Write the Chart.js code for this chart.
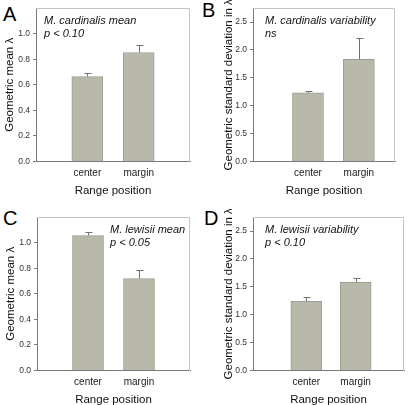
<!DOCTYPE html>
<html>
<head>
<meta charset="utf-8">
<script src="https://cdn.jsdelivr.net/npm/chart.js@4.4.1/dist/chart.umd.min.js"></script>
<style>
  html, body { margin: 0; padding: 0; background: #fff; overflow: hidden; }
  body { width: 410px; height: 405px; position: relative; font-family: 'Liberation Sans', Arial, sans-serif; }
  .pane { position: absolute; height: 200px; }
  .letter { position: absolute; font-size: 20px; line-height: 20px; color: #000; }
</style>
</head>
<body>
<div class="letter" style="left:3px;top:4px">A</div>
<div class="letter" style="left:202px;top:0px">B</div>
<div class="letter" style="left:3px;top:208px">C</div>
<div class="letter" style="left:204px;top:208px">D</div>

<div class="pane" style="left:0;top:0;width:205px"><canvas id="cA"></canvas></div>
<div class="pane" style="left:217px;top:0;width:193px"><canvas id="cB"></canvas></div>
<div class="pane" style="left:1px;top:209px;width:204px"><canvas id="cC"></canvas></div>
<div class="pane" style="left:217px;top:209px;width:193px"><canvas id="cD"></canvas></div>

<script>
var categories = ['center', 'margin'];
var catPos = [1, 2];

// M. cardinalis
var cardMean = [0.664, 0.853];
var cardMeanErr = [0.031, 0.056];
var cardSD = [1.23, 1.83];
var cardSDErr = [0.04, 0.38];

// M. lewisii
var lewMean = [1.055, 0.72];
var lewMeanErr = [0.03, 0.065];
var lewSD = [1.24, 1.585];
var lewSDErr = [0.08, 0.065];

var meanTicks = { max: 1.2, step: 0.2, top: 1.0 };
var sdTicks = { max: 2.75, step: 0.5, top: 2.5 };

var FONT = "'Liberation Sans', Arial, sans-serif";
var BAR = '#b9b9ab';
var BAR_EDGE = '#9b9b93';
var AXIS = '#7a7a7a';
var FRAME = '#c4c4c4';

var errPlugin = {
  id: 'errbars',
  afterDatasetsDraw: function(chart) {
    var errs = chart.options.plugins.errbars.errs;
    var ys = chart.scales.y;
    var meta = chart.getDatasetMeta(0);
    var vals = chart.data.datasets[0].data;
    var ctx = chart.ctx;
    ctx.save();
    ctx.strokeStyle = '#707070';
    ctx.lineWidth = 1;
    meta.data.forEach(function(el, i) {
      var x = Math.round(el.x) + 0.5;
      var yTop = Math.round(ys.getPixelForValue(vals[i].y + errs[i])) + 0.5;
      ctx.beginPath();
      ctx.moveTo(x, el.y);
      ctx.lineTo(x, yTop);
      ctx.moveTo(x - 3, yTop);
      ctx.lineTo(x + 4, yTop);
      ctx.stroke();
    });
    ctx.restore();
  }
};

var framePlugin = {
  id: 'frame',
  afterDraw: function(chart) {
    var a = chart.chartArea;
    var ctx = chart.ctx;
    ctx.save();
    ctx.strokeStyle = FRAME;
    ctx.lineWidth = 1;
    ctx.beginPath();
    ctx.moveTo(Math.round(a.left), Math.round(a.top) + 0.5);
    ctx.lineTo(Math.round(a.right) - 0.5, Math.round(a.top) + 0.5);
    ctx.lineTo(Math.round(a.right) - 0.5, Math.round(a.bottom));
    ctx.stroke();
    // annotation text
    var n = chart.options.plugins.frame;
    ctx.fillStyle = '#111';
    ctx.font = 'italic 11px ' + FONT;
    ctx.textBaseline = 'middle';
    ctx.textAlign = 'left';
    ctx.fillText(n.lines[0], a.left + n.dx, a.top + 13);
    ctx.fillText(n.lines[1], a.left + n.dx, a.top + 26);
    ctx.restore();
  }
};

function makePanel(id, vals, errs, tk, yTitle, lines, dx, rightPad, xMin, xMax, titlePad) {
  return new Chart(document.getElementById(id), {
    type: 'bar',
    data: {
      datasets: [{
        data: vals.map(function(v, i) { return { x: catPos[i], y: v }; }),
        backgroundColor: BAR,
        borderColor: BAR_EDGE,
        borderWidth: 1,
        barThickness: 31
      }]
    },
    options: {
      responsive: true, maintainAspectRatio: false, animation: false,
      layout: { padding: { top: 6, right: rightPad, left: 0, bottom: 0 } },
      plugins: {
        legend: { display: false },
        tooltip: { enabled: false },
        errbars: { errs: errs },
        frame: { lines: lines, dx: dx }
      },
      scales: {
        x: {
          type: 'linear', min: xMin, max: xMax, offset: false,
          grid: { display: false, drawTicks: false, offset: false },
          border: { display: true, color: AXIS },
          ticks: { stepSize: 1, color: '#222', padding: 6, font: { family: FONT, size: 10 },
                   maxRotation: 0, autoSkip: false,
                   callback: function(v) { var i = catPos.indexOf(v); return i < 0 ? '' : categories[i]; } },
          title: { display: true, text: 'Range position', color: '#111',
                   font: { family: FONT, size: 11.5 }, padding: { top: 0, bottom: 2 } },
          afterFit: function(s) { s.height = 38.5; }
        },
        y: {
          min: 0, max: tk.max,
          grid: { drawOnChartArea: false, drawTicks: true, tickLength: 3, color: AXIS },
          border: { display: true, color: AXIS },
          ticks: { stepSize: tk.step, color: '#333', padding: 3, font: { family: FONT, size: 8.5 },
                   callback: function(v) { return v.toFixed(1); } },
          afterBuildTicks: function(s) {
            s.ticks = s.ticks.filter(function(t){ return t.value <= tk.top + 1e-9; });
          },
          title: { display: true, text: yTitle, color: '#111',
                   font: { family: FONT, size: 11.5 }, padding: { top: titlePad, bottom: 0 } },
          afterFit: function(s) { s.width = 36; }
        }
      }
    },
    plugins: [errPlugin, framePlugin]
  });
}

makePanel('cA', cardMean, cardMeanErr, meanTicks, 'Geometric mean \u03bb',
  ['M. cardinalis mean', 'p < 0.10'], 8, 15, 0, 3, 3);
makePanel('cB', cardSD, cardSDErr, sdTicks, 'Geometric standard deviation in \u03bb',
  ['M. cardinalis variability', 'ns'], 12, 15, -0.08, 2.71, 5);
makePanel('cC', lewMean, lewMeanErr, meanTicks, 'Geometric mean \u03bb',
  ['M. lewisii mean', 'p < 0.05'], 73, 15, 0, 3, 3);
makePanel('cD', lewSD, lewSDErr, sdTicks, 'Geometric standard deviation in \u03bb',
  ['M. lewisii variability', 'p < 0.10'], 12, 1, -0.08, 2.98, 5);
</script>
</body>
</html>
